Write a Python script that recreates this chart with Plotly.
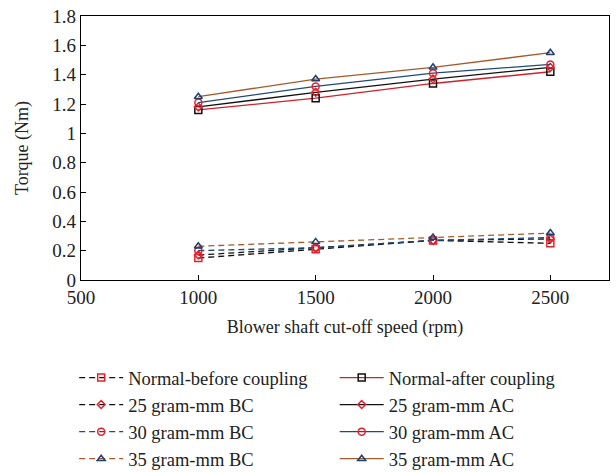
import plotly.graph_objects as go

speed = [1000, 1500, 2000, 2500]

normal_bc = [0.15, 0.21, 0.27, 0.25]
normal_ac = [1.16, 1.24, 1.34, 1.42]
g25_bc = [0.17, 0.22, 0.27, 0.28]
g25_ac = [1.18, 1.28, 1.37, 1.45]
g30_bc = [0.20, 0.22, 0.27, 0.29]
g30_ac = [1.21, 1.32, 1.41, 1.47]
g35_bc = [0.23, 0.26, 0.29, 0.32]
g35_ac = [1.25, 1.37, 1.45, 1.55]

names = ["Normal-before coupling", "Normal-after coupling",
         "25 gram-mm BC", "25 gram-mm AC",
         "30 gram-mm BC", "30 gram-mm AC",
         "35 gram-mm BC", "35 gram-mm AC"]

RED = "#d0202a"
MRED = "#e8202a"
BLK = "#111111"
BLUE = "#1f4a7a"
BROWN = "#a65a2a"
TRI = "#1f3f6e"

series = [
    (normal_bc, BLK, "6px,4px", "square-open", MRED, 7, "legend"),
    (normal_ac, RED, "solid", "square-open", BLK, 7, "legend2"),
    (g25_bc, BLK, "6px,4px", "diamond-open", MRED, 6, "legend"),
    (g25_ac, BLK, "solid", "diamond-open", MRED, 6, "legend2"),
    (g30_bc, BLUE, "6px,4px", "circle-open", MRED, 7, "legend"),
    (g30_ac, BLUE, "solid", "circle-open", MRED, 7, "legend2"),
    (g35_bc, BROWN, "6px,4px", "triangle-up-open", TRI, 7, "legend"),
    (g35_ac, BROWN, "solid", "triangle-up-open", TRI, 7, "legend2"),
]

fig = go.Figure()
for name, (ys, lc, dash, sym, mc, ms, lg) in zip(names, series):
    fig.add_trace(go.Scatter(
        x=speed, y=ys, name=name, mode="lines+markers", legend=lg,
        line=dict(color=lc, width=1.3, dash=dash),
        marker=dict(symbol=sym, color=mc, size=ms, line=dict(color=mc, width=1.5)),
    ))

FONT = "Liberation Serif, Times New Roman, serif"
yticks = [0, 0.2, 0.4, 0.6, 0.8, 1, 1.2, 1.4, 1.6, 1.8]
yticktext = ["0", "0.2", "0.4", "0.6", "0.8", "1", "1.2", "1.4", "1.6", "1.8"]

leg_common = dict(orientation="v", xanchor="left", xref="paper",
                  yanchor="top", yref="container",
                  y=1 - 359 / 472, itemwidth=44,
                  font=dict(family=FONT, size=18.5),
                  tracegroupgap=0, bgcolor="rgba(0,0,0,0)")

fig.update_layout(
    width=616, height=472,
    margin=dict(l=81, r=6, t=10, b=192),
    paper_bgcolor="white", plot_bgcolor="white",
    font=dict(family=FONT, size=18, color="#222222"),
    xaxis=dict(range=[500, 2750], tickvals=[500, 1000, 1500, 2000, 2500],
               ticks="inside", ticklen=5, tickcolor="black",
               tickfont=dict(family=FONT, size=19), ticklabeloverflow="allow",
               showline=True, linecolor="black", linewidth=1.3, mirror=True,
               showgrid=False, zeroline=False,
               title=dict(text="Blower shaft cut-off speed (rpm)", standoff=13,
                          font=dict(family=FONT, size=18))),
    yaxis=dict(range=[0, 1.8001], tickvals=yticks, ticktext=yticktext,
               ticks="inside", ticklen=5, tickcolor="black",
               tickfont=dict(family=FONT, size=19), ticklabeloverflow="allow",
               showline=True, linecolor="black", linewidth=1.3, mirror=True,
               showgrid=False, zeroline=False,
               title=dict(text="Torque (Nm)", standoff=18, font=dict(family=FONT, size=18))),
    legend=dict(x=-0.0129, **leg_common),
    legend2=dict(x=0.4805, **leg_common),
    showlegend=True,
)

fig.write_html("out.html")
